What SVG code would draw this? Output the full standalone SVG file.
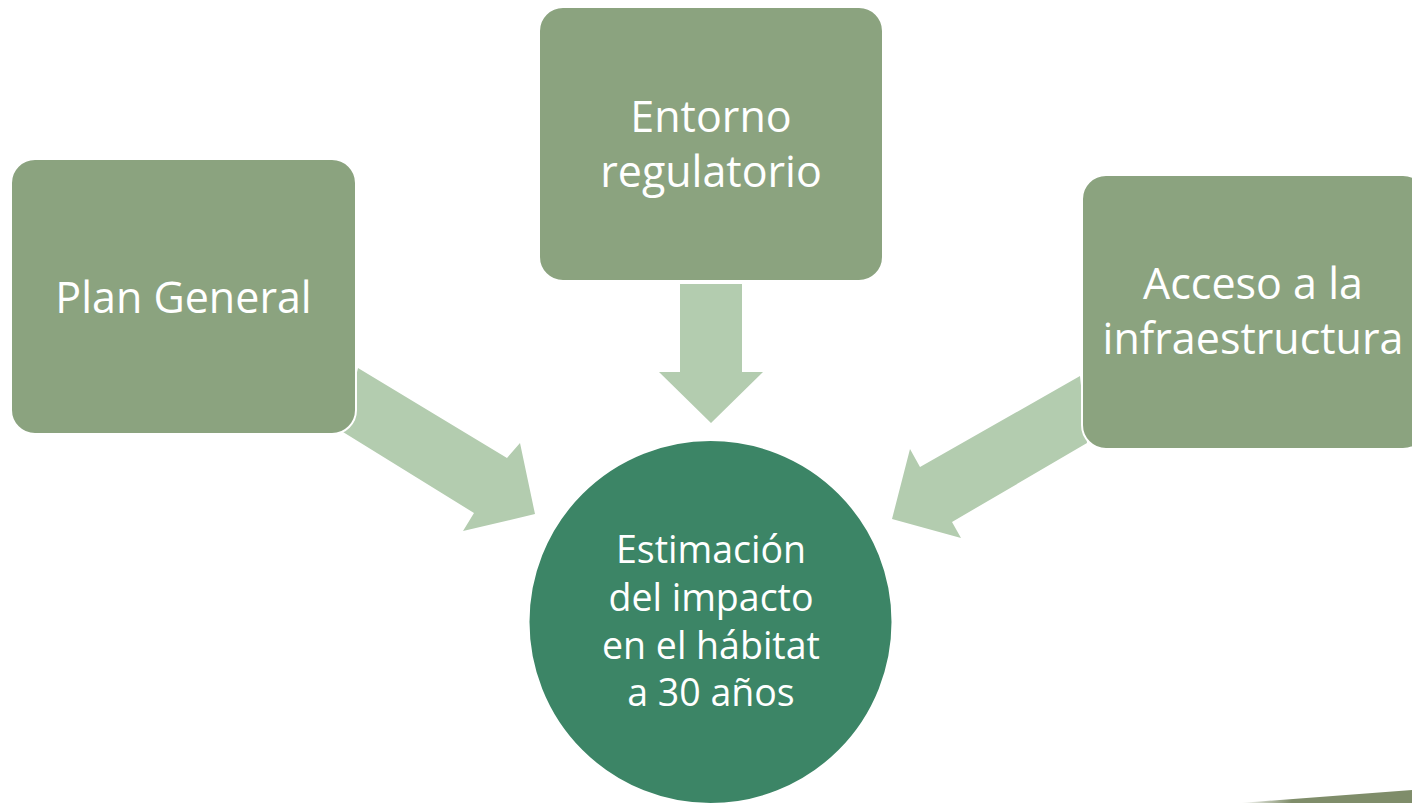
<svg xmlns="http://www.w3.org/2000/svg" width="1412" height="803" viewBox="0 0 1412 803">
<defs>
<style>
.box{fill:#8BA37F;stroke:#ffffff;stroke-width:2}
.arr{fill:#B3CCAF}
.t{font-family:"Open Sans","Liberation Sans",sans-serif;fill:#ffffff;text-anchor:middle}
.big{font-size:43px}
.mid{font-size:37.5px}
</style>
<linearGradient id="wedge" x1="0" y1="0" x2="1" y2="0">
<stop offset="0" stop-color="#7F8D6A" stop-opacity="0"/>
<stop offset="0.3" stop-color="#7F8D6A" stop-opacity="1"/>
<stop offset="1" stop-color="#7F8D6A"/>
</linearGradient>
</defs>
<rect width="1412" height="803" fill="#ffffff"/>
<g id="connectors">
<polygon class="arr" points="358,368 507,458 520,443 535,514 463,531 474,513 343,432"/>
<polygon class="arr" points="680,284 742,284 742,372 763,372 711,423 659,372 680,372"/>
<polygon class="arr" points="1080,376 920,467 910,449 892,519 961,538 952,522 1087,443"/>
</g>
<g id="plan-general">
<rect class="box" x="11" y="159" width="345" height="275" rx="24"/>
<text class="t big" x="183.5" y="313">Plan General</text>
</g>
<g id="entorno-regulatorio">
<rect class="box" x="539" y="7" width="344" height="274" rx="24"/>
<text class="t big" x="711" y="132">Entorno</text>
<text class="t big" x="711" y="187">regulatorio</text>
</g>
<g id="acceso-infraestructura">
<rect class="box" x="1082" y="175" width="345" height="274" rx="24"/>
<text class="t big" x="1253" y="299">Acceso a la</text>
<text class="t big" x="1253" y="354">infraestructura</text>
</g>
<g id="estimacion">
<circle cx="710.5" cy="622" r="182" fill="#3C8566" stroke="#ffffff" stroke-width="2"/>
<text class="t mid" x="711" y="563">Estimación</text>
<text class="t mid" x="711" y="611">del impacto</text>
<text class="t mid" x="711" y="659">en el hábitat</text>
<text class="t mid" x="711" y="706">a 30 años</text>
</g>
<polygon points="1240,803 1412,790 1412,803" fill="url(#wedge)"/>
</svg>
